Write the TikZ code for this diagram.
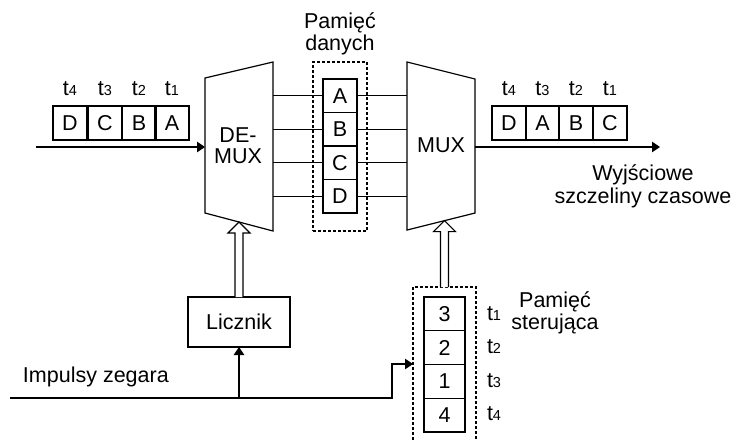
\documentclass[tikz,border=0pt]{standalone}
\usepackage{fontspec}
\setmainfont{Liberation Sans}
\usetikzlibrary{arrows.meta,calc}
\newcommand\tlab[1]{t{\fontsize{14.5}{14.5}\selectfont #1}}
\begin{document}
\begin{tikzpicture}[x=1pt,y=-1pt,
  every node/.style={font=\fontsize{21.5}{23}\selectfont, inner sep=0pt, outer sep=0pt},
  ln/.style={line width=1.2pt},
  arr/.style={line width=1.2pt, -{Triangle[length=8pt,width=10.5pt]}},
  cell/.style={draw, line width=1.2pt, minimum width=34pt, minimum height=34pt},
  dcell/.style={draw, line width=1.2pt, minimum width=34pt, minimum height=33.5pt},
  ccell/.style={draw, line width=1.2pt, minimum width=41pt, minimum height=33.75pt},
  dashbox/.style={draw, line width=1.1pt, dash pattern=on 3pt off 2pt},
  hollow/.style={line width=1.2pt, fill=white, line join=miter},
  txt/.style={anchor=base}
]
\useasboundingbox (0,0) rectangle (731,440);

% DEMUX and MUX trapezoids
\coordinate (dmTL) at (205,78);  \coordinate (dmTR) at (273,62);
\coordinate (dmBR) at (273,231); \coordinate (dmBL) at (205,213);
\coordinate (muxTL) at (407,62); \coordinate (muxTR) at (475,79);
\coordinate (muxBR) at (475,213);\coordinate (muxBL) at (407,230);
\draw[ln, line join=miter] (dmTL) -- (dmTR) -- (dmBR) -- (dmBL) -- cycle;
\draw[ln, line join=miter] (muxTL) -- (muxTR) -- (muxBR) -- (muxBL) -- cycle;
\node[txt] (dmt1) at (238,142) {DE-};
\node[txt] (dmt2) at (238,163) {MUX};
\node[txt] (muxt) at (441,152) {MUX};

% input frame
\node[cell] (i4) at (70,123) {D};
\node[cell] (i3) at (105,123) {C};
\node[cell] (i2) at (139,123) {B};
\node[cell] (i1) at (172,123) {A};
\node[txt] (it4) at (70,95) {\tlab{4}};
\node[txt] (it3) at (105,95) {\tlab{3}};
\node[txt] (it2) at (139,95) {\tlab{2}};
\node[txt] (it1) at (172,95) {\tlab{1}};
\coordinate (inS) at (36,147);
\draw[arr] (inS) -- (inS -| dmTL);

% output frame
\node[cell] (o4) at (509,123) {D};
\node[cell] (o3) at (542.5,123) {A};
\node[cell] (o2) at (576,123) {B};
\node[cell] (o1) at (610,123) {C};
\node[txt] (ot4) at (509,95) {\tlab{4}};
\node[txt] (ot3) at (542.5,95) {\tlab{3}};
\node[txt] (ot2) at (576,95) {\tlab{2}};
\node[txt] (ot1) at (610,95) {\tlab{1}};
\coordinate (outE) at (660,147);
\draw[arr] (outE -| muxTR) -- (outE);
\node[txt] (w1) at (643,180) {Wyjściowe};
\node[txt] (w2) at (643,203) {szczeliny czasowe};

% data memory
\node[dashbox, minimum width=54pt, minimum height=169pt] (dmem) at (340,146.5) {};
\node[txt] (pd1) at (340,28) {Pamięć};
\node[txt] (pd2) at (340,50) {danych};
\node[dcell] (dA) at (340,95.75) {A};
\node[dcell] (dB) at (340,129.25) {B};
\node[dcell] (dC) at (340,162.75) {C};
\node[dcell] (dD) at (340,196.25) {D};
\foreach \c in {dA,dB,dC,dD}{
  \draw[ln] (\c.west) -- (\c.west -| dmTR);
  \draw[ln] (\c.east) -- (\c.east -| muxTL);
}

% counter
\node[draw, line width=1.2pt, minimum width=102pt, minimum height=50pt] (lic) at (239,322) {Licznik};
\coordinate (tipD) at (intersection of dmBL--dmBR and lic.north--lic.south);
\draw[hollow] let \p1=(lic.north), \p2=(tipD) in
  (\x1-4pt,\y1) -- (\x1-4pt,\y2-11pt) -- (\x1-11pt,\y2-11pt) -- (\p2)
  -- (\x1+11pt,\y2-11pt) -- (\x1+4pt,\y2-11pt) -- (\x1+4pt,\y1);

% control memory
\coordinate (cbTL) at (413,287); \coordinate (cbTR) at (476,287);
\coordinate (cbBL) at (413,440); \coordinate (cbBR) at (476,440);
\draw[line width=1.1pt, dash pattern=on 3pt off 2pt] (cbBL) -- (cbTL) -- (cbTR) -- (cbBR);
\node[ccell] (c1) at (444.5,313.9) {3};
\node[ccell] (c2) at (444.5,347.6) {2};
\node[ccell] (c3) at (444.5,381.4) {1};
\node[ccell] (c4) at (444.5,415.1) {4};
\node[txt, anchor=base west] (ct1) at (487,320) {\tlab{1}};
\node[txt, anchor=base west] (ct2) at (487,353.5) {\tlab{2}};
\node[txt, anchor=base west] (ct3) at (487,387) {\tlab{3}};
\node[txt, anchor=base west] (ct4) at (487,420.5) {\tlab{4}};
\node[txt] (ps1) at (555,307) {Pamięć};
\node[txt] (ps2) at (555,329) {sterująca};
\coordinate (cbTop) at ($(cbTL)!0.5!(cbTR)$);
\coordinate (tipM) at (intersection of muxBL--muxBR and cbTop--c1.center);
\draw[hollow] let \p1=(cbTop), \p2=(tipM) in
  (\x1-4pt,\y1) -- (\x1-4pt,\y2-11pt) -- (\x1-11pt,\y2-11pt) -- (\p2)
  -- (\x1+11pt,\y2-11pt) -- (\x1+4pt,\y2-11pt) -- (\x1+4pt,\y1);

% clock
\coordinate (clk0) at (10,398);
\coordinate (clkbend) at (392,398);
\coordinate (clkin) at (413,364);
\draw[arr] (clk0) -- (clkbend) |- (clkin);
\draw[arr] (lic.south |- clk0) -- (lic.south);
\node[txt, anchor=base west] (imp) at (23,382) {Impulsy zegara};
\end{tikzpicture}
\end{document}
